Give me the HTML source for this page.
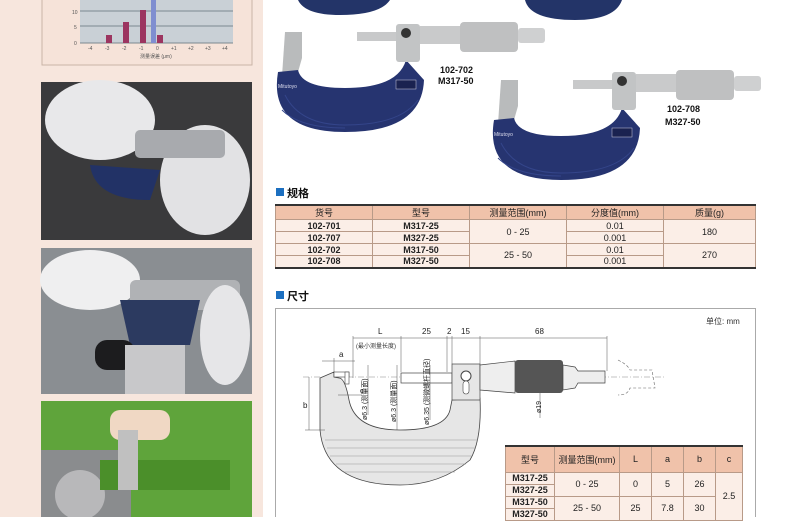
<!DOCTYPE html>
<html><head><meta charset="utf-8"><style>
body{margin:0;width:790px;height:517px;overflow:hidden;background:#fff;font-family:"Liberation Sans","Noto Sans CJK SC",sans-serif;}
svg{position:absolute;left:0;top:0}
.t{position:absolute;border-collapse:collapse;font-size:9px;color:#222;text-align:center;}
.t td{padding:0;border:1px solid #b89a88;}
</style></head><body>
<svg width="790" height="517" viewBox="0 0 790 517" font-family="Liberation Sans, Noto Sans CJK SC, sans-serif">
<rect x="0" y="0" width="263" height="517" fill="#f7e6dd"/>
<!-- chart -->
<rect x="42" y="-2" width="210" height="67" fill="#f6e3d9" stroke="#c9b4a6"/>
<rect x="80" y="-2" width="153" height="45" fill="#c9d0d6"/>
<line x1="80" y1="11" x2="233" y2="11" stroke="#7c8890"/><line x1="80" y1="26" x2="233" y2="26" stroke="#7c8890"/><line x1="80" y1="43" x2="233" y2="43" stroke="#7c8890"/>
<rect x="106" y="35" width="6" height="8" fill="#9c3560"/><rect x="123" y="22" width="6" height="21" fill="#9c3560"/><rect x="140" y="10" width="6" height="33" fill="#9c3560"/><rect x="157" y="35" width="6" height="8" fill="#9c3560"/>
<rect x="151" y="-2" width="5" height="45" fill="#7f8ed0"/>
<g font-size="5" fill="#555"><text x="72" y="14">10</text><text x="74" y="29">5</text><text x="74" y="45">0</text>
<text x="88" y="50">-4</text><text x="105" y="50">-3</text><text x="122" y="50">-2</text><text x="139" y="50">-1</text><text x="156" y="50">0</text><text x="171" y="50">+1</text><text x="188" y="50">+2</text><text x="205" y="50">+3</text><text x="222" y="50">+4</text>
<text x="140" y="58">测量误差 (μm)</text></g>
<!-- photos -->
<rect x="41" y="82" width="211" height="158" fill="#3a3a3c"/>
<ellipse cx="100" cy="120" rx="55" ry="40" fill="#e8e8ea"/><ellipse cx="205" cy="180" rx="45" ry="55" fill="#e2e2e4"/>
<rect x="135" y="130" width="90" height="28" rx="5" fill="#a8aaae"/><path d="M90,165 Q95,200 150,200 L160,170 Z" fill="#223266"/>
<rect x="41" y="248" width="211" height="146" fill="#8a8e92"/>
<ellipse cx="90" cy="280" rx="50" ry="30" fill="#efeff0"/><rect x="130" y="280" width="110" height="30" rx="6" fill="#b0b2b5"/>
<path d="M120,300 L200,300 L190,345 L130,345 Z" fill="#2c3a60"/><rect x="95" y="340" width="40" height="30" rx="12" fill="#1c1c1e"/><rect x="125" y="345" width="60" height="49" fill="#c8c8ca"/>
<ellipse cx="225" cy="335" rx="25" ry="50" fill="#e6e6e8"/>
<rect x="41" y="401" width="211" height="116" fill="#5fa43b"/>
<rect x="41" y="450" width="90" height="67" fill="#8a8c8e"/><circle cx="80" cy="495" r="25" fill="#b8b8ba"/><rect x="100" y="460" width="130" height="30" fill="#4b8f2a"/><rect x="110" y="410" width="60" height="30" rx="10" fill="#f0d8c4"/><rect x="118" y="430" width="20" height="60" fill="#c0c0c0"/>
<!-- top blue shapes -->
<path d="M298,0 Q305,15 340,15 Q380,15 390,0 Z" fill="#233468"/>
<path d="M525,0 Q530,20 575,20 Q615,20 622,0 Z" fill="#233468"/>
<!-- micrometer 1 -->
<g id="m1">
<path d="M285,32 L302,32 L302,58 L298,72 L282,76 Z" fill="#b9bbbc"/>
<path d="M278,72 Q268,132 345,132 Q422,132 424,80 L406,60 Q398,88 345,88 Q302,88 298,70 Z" fill="#263470"/>
<path d="M285,95 Q300,125 345,125 Q400,125 418,100" stroke="#34458a" fill="none"/><path d="M282,110 Q300,128 345,128" stroke="#34458a" fill="none"/>
<text x="278" y="88" font-size="5" fill="#dde">Mitutoyo</text>
<rect x="396" y="80" width="20" height="9" fill="#1a2250" stroke="#ccd" stroke-width=".5"/>
<rect x="357" y="32" width="42" height="9" fill="#c8c9ca"/>
<rect x="396" y="24" width="24" height="38" rx="3" fill="#c2c4c5"/>
<circle cx="406" cy="33" r="5" fill="#333"/>
<rect x="420" y="26" width="40" height="18" fill="#c9cacb"/>
<rect x="460" y="22" width="58" height="30" rx="4" fill="#bfc0c1"/>
<rect x="518" y="28" width="27" height="15" rx="3" fill="#cfd0d1"/>
</g>
<use href="#m1" transform="translate(216,48)"/>
<g font-size="9" font-weight="bold" fill="#111"><text x="440" y="73">102-702</text><text x="438" y="84">M317-50</text><text x="667" y="112">102-708</text><text x="665" y="125">M327-50</text></g>
<!-- headings -->
<rect x="276" y="188" width="8" height="8" fill="#1c6fc0"/><text x="287" y="197" font-size="11" font-weight="bold" fill="#111">规格</text>
<rect x="276" y="291" width="8" height="8" fill="#1c6fc0"/><text x="287" y="300" font-size="11" font-weight="bold" fill="#111">尺寸</text>
<!-- dim box -->
<rect x="275.5" y="308.5" width="480" height="212" fill="#fff" stroke="#aaa"/>
<text x="706" y="324" font-size="8" fill="#333">单位: mm</text>
<line x1="303" y1="377" x2="665" y2="377" stroke="#888" stroke-width=".6" stroke-dasharray="6,2,1,2"/>
<path d="M320,378 L334,372 L334,377 L339,378 Q345,378 349,400 Q355,430 400,430 Q445,430 450,410 L452,400 L480,398 Q482,440 470,460 Q440,485 400,485 Q325,485 320,430 Z" fill="#e6e6e6" stroke="#444" stroke-width=".8"/>
<g stroke="#999" stroke-width=".5"><line x1="325" y1="440" x2="478" y2="440"/><line x1="327" y1="448" x2="476" y2="448"/><line x1="330" y1="456" x2="472" y2="456"/><line x1="336" y1="464" x2="466" y2="464"/><line x1="344" y1="472" x2="455" y2="472"/></g>
<rect x="334" y="372" width="15" height="5" fill="#fff" stroke="#444" stroke-width=".6"/><rect x="345" y="372" width="4" height="12" fill="#fff" stroke="#444" stroke-width=".6"/>
<rect x="401" y="373" width="51" height="10" fill="#fff" stroke="#444" stroke-width=".7"/>
<rect x="452" y="364" width="28" height="36" fill="#e6e6e6" stroke="#444" stroke-width=".7"/>
<circle cx="466" cy="376" r="5" fill="#fff" stroke="#444"/><rect x="463" y="381" width="6" height="13" rx="3" fill="#fff" stroke="#444" stroke-width=".6"/>
<path d="M480,365 L515,361 L515,393 L480,390 Z" fill="#eee" stroke="#444" stroke-width=".7"/>
<rect x="515" y="360" width="48" height="33" rx="3" fill="#555"/>
<path d="M563,365 L575,367 L578,371 L605,371 L605,383 L578,383 L575,388 L563,390 Z" fill="#eee" stroke="#444" stroke-width=".7"/>
<path d="M618,360 Q628,365 630,370 L652,370 L655,388 L630,388 Q628,395 618,395" fill="none" stroke="#666" stroke-width=".6" stroke-dasharray="3,2"/>
<g stroke="#555" stroke-width=".5" fill="none">
<line x1="353" y1="338" x2="607" y2="338"/><line x1="353" y1="336" x2="353" y2="378"/><line x1="401" y1="336" x2="401" y2="372"/><line x1="447" y1="336" x2="447" y2="372"/><line x1="452" y1="336" x2="452" y2="364"/><line x1="480" y1="336" x2="480" y2="364"/><line x1="607" y1="336" x2="607" y2="371"/>
<line x1="322" y1="361" x2="355" y2="361"/><line x1="334" y1="358" x2="334" y2="372"/><line x1="309" y1="377" x2="309" y2="430"/><line x1="305" y1="430" x2="325" y2="430"/><line x1="338" y1="395" x2="362" y2="395"/>
<line x1="368" y1="365" x2="368" y2="415"/><line x1="397" y1="365" x2="397" y2="430"/><line x1="430" y1="365" x2="430" y2="420"/><line x1="540" y1="393" x2="540" y2="418"/></g>
<g font-size="8" fill="#222"><text x="378" y="334">L</text><text x="422" y="334">25</text><text x="447" y="334">2</text><text x="461" y="334">15</text><text x="535" y="334">68</text>
<text x="339" y="357">a</text><text x="303" y="408">b</text><text x="360" y="393" font-size="7">c</text></g>
<text x="356" y="348" font-size="6" fill="#333">(最小测量长度)</text>
<g font-size="7" fill="#222"><text transform="translate(367,420) rotate(-90)">ø6.3 (测量面)</text><text transform="translate(396,422) rotate(-90)">ø6.3 (测量面)</text><text transform="translate(429,425) rotate(-90)">ø6.35 (测微螺杆直径)</text><text transform="translate(541,413) rotate(-90)">ø19</text></g>
</svg>
<table class="t" style="left:275px;top:204px;width:481px;border-top:2px solid #333;border-bottom:2px solid #333;">
<tr style="background:#f0c2aa;height:14px"><td style="width:96px">货号</td><td style="width:96px">型号</td><td style="width:96px">测量范围(mm)</td><td style="width:96px">分度值(mm)</td><td>质量(g)</td></tr>
<tr style="background:#fbeee7;height:12px;font-weight:bold"><td>102-701</td><td>M317-25</td><td rowspan="2" style="font-weight:normal">0 - 25</td><td style="font-weight:normal">0.01</td><td rowspan="2" style="font-weight:normal">180</td></tr>
<tr style="background:#fbeee7;height:12px;font-weight:bold"><td>102-707</td><td>M327-25</td><td style="font-weight:normal">0.001</td></tr>
<tr style="background:#fbeee7;height:12px;font-weight:bold"><td>102-702</td><td>M317-50</td><td rowspan="2" style="font-weight:normal">25 - 50</td><td style="font-weight:normal">0.01</td><td rowspan="2" style="font-weight:normal">270</td></tr>
<tr style="background:#fbeee7;height:12px;font-weight:bold"><td>102-708</td><td>M327-50</td><td style="font-weight:normal">0.001</td></tr>
</table>
<table class="t" style="left:505px;top:445px;width:238px;border-top:2px solid #333;">
<tr style="background:#f0c2aa;height:26px"><td style="width:48px">型号</td><td style="width:64px">测量范围(mm)</td><td style="width:31px">L</td><td style="width:31px">a</td><td style="width:31px">b</td><td>c</td></tr>
<tr style="background:#fbeee7;height:12px"><td style="font-weight:bold">M317-25</td><td rowspan="2">0 - 25</td><td rowspan="2">0</td><td rowspan="2">5</td><td rowspan="2">26</td><td rowspan="4">2.5</td></tr>
<tr style="background:#fbeee7;height:12px"><td style="font-weight:bold">M327-25</td></tr>
<tr style="background:#fbeee7;height:12px"><td style="font-weight:bold">M317-50</td><td rowspan="2">25 - 50</td><td rowspan="2">25</td><td rowspan="2">7.8</td><td rowspan="2">30</td></tr>
<tr style="background:#fbeee7;height:12px"><td style="font-weight:bold">M327-50</td></tr>
</table>
</body></html>
